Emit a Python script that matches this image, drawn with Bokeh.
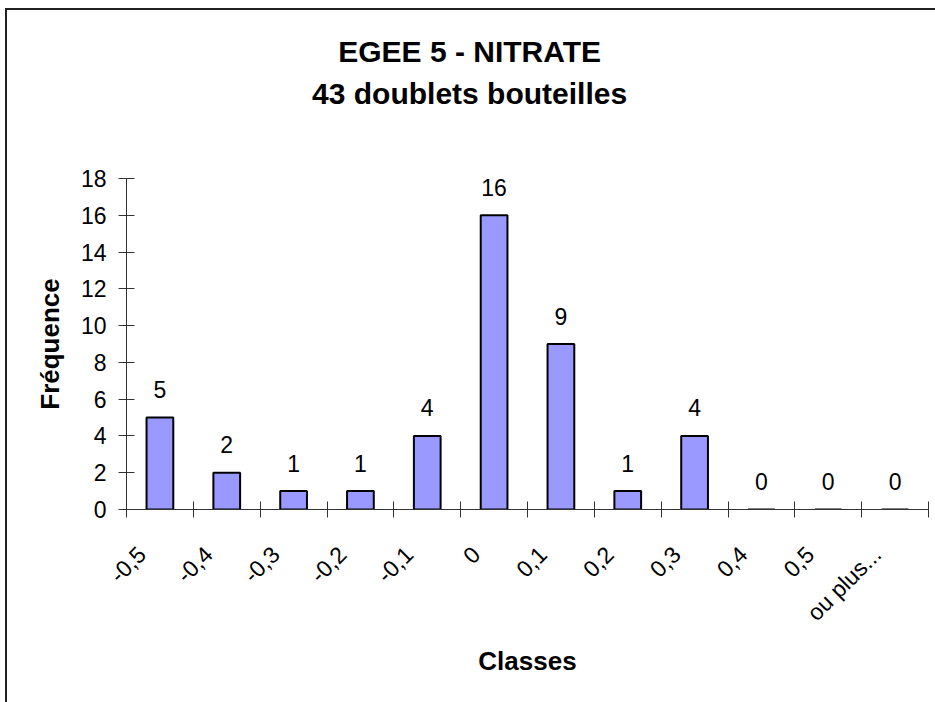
import math
from bokeh.plotting import figure
from bokeh.layouts import column
from bokeh.models import Range1d, FixedTicker, ColumnDataSource
from bokeh.core.properties import value
from bokeh.embed import file_html
from bokeh.resources import INLINE

# ---- data ----
classes = ["-0,5", "-0,4", "-0,3", "-0,2", "-0,1", "0", "0,1", "0,2", "0,3", "0,4", "0,5", "ou plus..."]
frequence = [5, 2, 1, 1, 4, 16, 9, 1, 4, 0, 0, 0]
y_ticks = [0, 2, 4, 6, 8, 10, 12, 14, 16, 18]
title_lines = ["EGEE 5 - NITRATE", "43 doublets bouteilles"]
x_title = "Classes"
y_title = "Fréquence"

FONT = "Liberation Sans"
W, H_TOP, H_MAIN = 935, 158, 544

# ---- title strip (its own small figure) ----
t = figure(width=W, height=H_TOP, x_range=Range1d(0, W), y_range=Range1d(H_TOP, 0),
           x_axis_type=None, y_axis_type=None, title=None,
           output_backend="svg", toolbar_location=None,
           min_border_left=0, min_border_right=0, min_border_top=0, min_border_bottom=0)
t.grid.visible = False
t.outline_line_color = None
t.background_fill_color = None
t.border_fill_color = None
t.text(x=[400, 400], y=[51, 93], text=title_lines, text_align="center",
       text_baseline="alphabetic", text_font=value(FONT), text_font_size="30px",
       text_font_style="bold", text_color="black")

# ---- main histogram ----
n = len(classes)
centers = [i + 0.5 for i in range(n)]
label_pos = [c - 0.27 for c in centers]
bounds = list(range(n + 1))

p = figure(width=W, height=H_MAIN, x_range=Range1d(0, n), y_range=Range1d(0, 18),
           output_backend="svg", toolbar_location=None,
           min_border_left=126, min_border_right=7, min_border_top=20, min_border_bottom=193)
p.xgrid.visible = False
p.ygrid.visible = False
p.outline_line_color = None
p.background_fill_color = "white"
p.border_fill_color = None

src = ColumnDataSource(dict(x=centers, top=frequence, lab=[str(v) for v in frequence]))
p.vbar(x="x", top="top", width=0.4, bottom=0, source=src,
       fill_color="#9999FF", line_color="black", line_width=2)
p.text(x="x", y="top", text="lab", source=src, text_align="center", text_baseline="alphabetic",
       y_offset=-28, text_font=value(FONT), text_font_size="23px", text_color="black")

# y axis
ya = p.yaxis[0]
ya.ticker = FixedTicker(ticks=y_ticks)
ya.major_tick_in = 8
ya.major_tick_out = 8
ya.minor_tick_in = 0
ya.minor_tick_out = 0
ya.axis_line_color = "#333333"
ya.major_tick_line_color = "#333333"
ya.major_label_text_font = FONT
ya.major_label_text_font_size = "23px"
ya.major_label_text_color = "black"
ya.major_label_standoff = 12
ya.axis_label = y_title
ya.axis_label_text_font = FONT
ya.axis_label_text_font_size = "26px"
ya.axis_label_text_font_style = "bold"
ya.axis_label_text_color = "black"
ya.axis_label_standoff = 13

# x axis
xa = p.xaxis[0]
xa.ticker = FixedTicker(ticks=label_pos, minor_ticks=bounds)
xa.major_label_overrides = {c: lab for c, lab in zip(label_pos, classes)}
xa.major_tick_in = 0
xa.major_tick_out = 0
xa.minor_tick_in = 8
xa.minor_tick_out = 8
xa.axis_line_color = "#333333"
xa.minor_tick_line_color = "#333333"
xa.major_label_orientation = math.pi / 4
xa.major_label_text_font = FONT
xa.major_label_text_font_size = "23px"
xa.major_label_text_color = "black"
xa.major_label_standoff = 33
xa.axis_label = x_title
xa.axis_label_text_font = FONT
xa.axis_label_text_font_size = "26px"
xa.axis_label_text_font_style = "bold"
xa.axis_label_text_color = "black"
xa.axis_label_standoff = 8

page = column(t, p, spacing=0, styles={
    "background-color": "white",
    "background-image": "linear-gradient(#222222, #222222), linear-gradient(#222222, #222222)",
    "background-size": "2px 100%, 100% 2px",
    "background-position": "5px 8px, 5px 8px",
    "background-repeat": "no-repeat",
})

open("out.html", "w").write(file_html(page, INLINE))
